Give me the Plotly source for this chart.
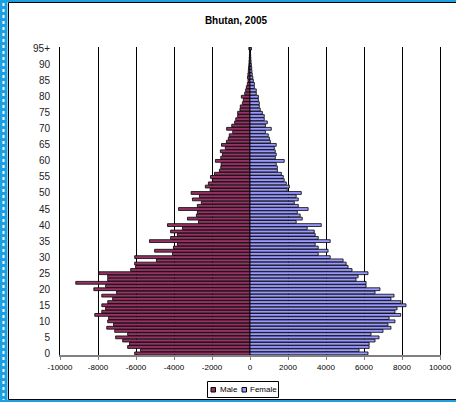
import plotly.graph_objects as go

# Single-year ages 0 .. 95+
ages = list(range(96))
age_tick_vals = list(range(0, 96, 5))
age_tick_text = [str(a) for a in range(0, 95, 5)] + ["95+"]

male = [
    6070, 5760, 6440, 6340, 6700, 7070, 6440, 7120, 7540, 7180,
    7490, 7440, 8170, 7800, 7600, 7800, 7490, 7230, 7800, 7020,
    8220, 7600, 9170, 7490, 7490, 7960, 6280, 6020, 6070, 4920,
    6070, 4080, 5020, 4030, 3820, 5290, 4180, 3820, 4180, 3550,
    4340, 2710, 3290, 2820, 2770, 3760, 2770, 2560, 3030, 2660,
    3100, 2100, 2350, 2190, 1980, 2080, 1870, 1610, 1540, 1520,
    1820, 1540, 1450, 1560, 1300, 1500, 1240, 1140, 1090, 910,
    1230, 960, 810, 750, 650, 650, 530, 510, 400, 350,
    455, 280, 230, 190, 140, 105, 130, 110, 90, 80,
    60, 50, 40, 30, 20, 60,
]

female = [
    6210, 5740, 6270, 6270, 6580, 6790, 6370, 7000, 7420, 7260,
    7630, 7320, 7930, 7630, 7740, 8210, 7950, 7420, 7580, 6580,
    6840, 6110, 6110, 5580, 5690, 6210, 5370, 5160, 5060, 4900,
    4220, 3590, 4110, 3590, 3430, 4220, 3590, 3430, 3380, 3010,
    3750, 2430, 2750, 2640, 2490, 3060, 2540, 2330, 2540, 2430,
    2700, 1960, 2070, 1910, 1800, 1750, 1650, 1440, 1440, 1380,
    1800, 1330, 1380, 1330, 1280, 1380, 1070, 1020, 960, 810,
    1120, 810, 910, 750, 750, 650, 540, 490, 490, 440,
    440, 330, 330, 230, 230, 175, 150, 120, 100, 90,
    70, 55, 45, 35, 25, 80,
]

x_tick_vals = list(range(-10000, 10001, 2000))
x_tick_text = [str(v) for v in x_tick_vals]

series_names = ["Male", "Female"]
male_color = "#993366"
female_color = "#9999FF"

W, H = 456, 402
L, R, T, B = 60, 16, 47, 47
PW, PH = W - L - R, H - T - B


def px_x(p):
    return (p - L) / PW


def px_y(p):
    return (H - B - p) / PH


fig = go.Figure()
fig.add_trace(go.Bar(
    y=ages, x=[-v for v in male], orientation="h", name=series_names[0],
    marker=dict(color=male_color, line=dict(color="black", width=0.8)),
    showlegend=False,
))
fig.add_trace(go.Bar(
    y=ages, x=female, orientation="h", name=series_names[1],
    marker=dict(color=female_color, line=dict(color="black", width=0.8)),
    showlegend=False,
))

font_family = "Liberation Sans, Arial, sans-serif"
sel_blue = "#1BA1E2"

shapes = []
# selection frame around the chart area (kept inside the page)
shapes.append(dict(type="rect", xref="paper", yref="paper",
                   x0=px_x(0), x1=px_x(7.5), y0=px_y(402), y1=px_y(0),
                   fillcolor=sel_blue, line=dict(width=0), layer="above"))
shapes.append(dict(type="line", xref="paper", yref="paper",
                   x0=px_x(3.5), x1=px_x(3.5), y0=px_y(402), y1=px_y(0),
                   line=dict(color="white", width=2, dash="dot"), layer="above"))
shapes.append(dict(type="rect", xref="paper", yref="paper",
                   x0=px_x(0), x1=px_x(W), y0=px_y(2), y1=px_y(0),
                   fillcolor=sel_blue, line=dict(width=0), layer="above"))
shapes.append(dict(type="rect", xref="paper", yref="paper",
                   x0=px_x(0), x1=px_x(W), y0=px_y(H), y1=px_y(400),
                   fillcolor=sel_blue, line=dict(width=0), layer="above"))
# chart area border: left, top and bottom edges
for x0, y0, x1, y1 in [(8.5, 2.5, 8.5, 399.5), (8.5, 2.5, W, 2.5), (8.5, 399.5, W, 399.5)]:
    shapes.append(dict(type="line", xref="paper", yref="paper",
                       x0=px_x(x0), x1=px_x(x1), y0=px_y(y0), y1=px_y(y1),
                       line=dict(color="black", width=1), layer="above"))

# legend box
shapes.append(dict(type="rect", xref="paper", yref="paper",
                   x0=px_x(207.5), x1=px_x(278.5), y0=px_y(397.5), y1=px_y(381.5),
                   fillcolor="white", line=dict(color="black", width=1)))
legend_items = [(series_names[0], male_color, 211, 218), (series_names[1], female_color, 242, 248)]
annotations = []
for name, col, mx, tx in legend_items:
    shapes.append(dict(type="rect", xref="paper", yref="paper",
                       x0=px_x(mx), x1=px_x(mx + 4.5), y0=px_y(392), y1=px_y(387.5),
                       fillcolor=col, line=dict(color="black", width=1)))
    annotations.append(dict(xref="paper", yref="paper", x=px_x(tx), y=px_y(389.8),
                            xanchor="left", yanchor="middle", text=name, showarrow=False,
                            font=dict(family=font_family, size=8, color="black")))

fig.update_layout(
    template="none",
    width=W, height=H,
    margin=dict(l=L, r=R, t=T, b=B, pad=0, autoexpand=False),
    paper_bgcolor="white", plot_bgcolor="white",
    barmode="overlay", bargap=0.12,
    title=dict(text="<b>Bhutan, 2005</b>", x=236 / W, xref="container", xanchor="center",
               y=1 - 20 / H, yref="container", yanchor="middle",
               font=dict(family=font_family, size=10, color="black")),
    xaxis=dict(range=[-10000, 10000], tickvals=x_tick_vals, ticktext=x_tick_text,
               showgrid=True, gridcolor="black", gridwidth=1, zeroline=False,
               showline=True, linecolor="#808080", linewidth=2,
               ticks="outside", ticklen=3, tickcolor="#808080",
               tickfont=dict(family=font_family, size=8, color="black"),
               automargin=False, fixedrange=True),
    yaxis=dict(range=[-0.5, 95.5], tickvals=age_tick_vals, ticktext=age_tick_text,
               showgrid=False, zeroline=False, showline=True, mirror=True,
               linecolor="black", linewidth=1, ticks="", ticklabelstandoff=7,
               tickfont=dict(family=font_family, size=10, color="#222222"),
               automargin=False, fixedrange=True),
    shapes=shapes, annotations=annotations,
    showlegend=False,
)

fig.write_html("out.html")
